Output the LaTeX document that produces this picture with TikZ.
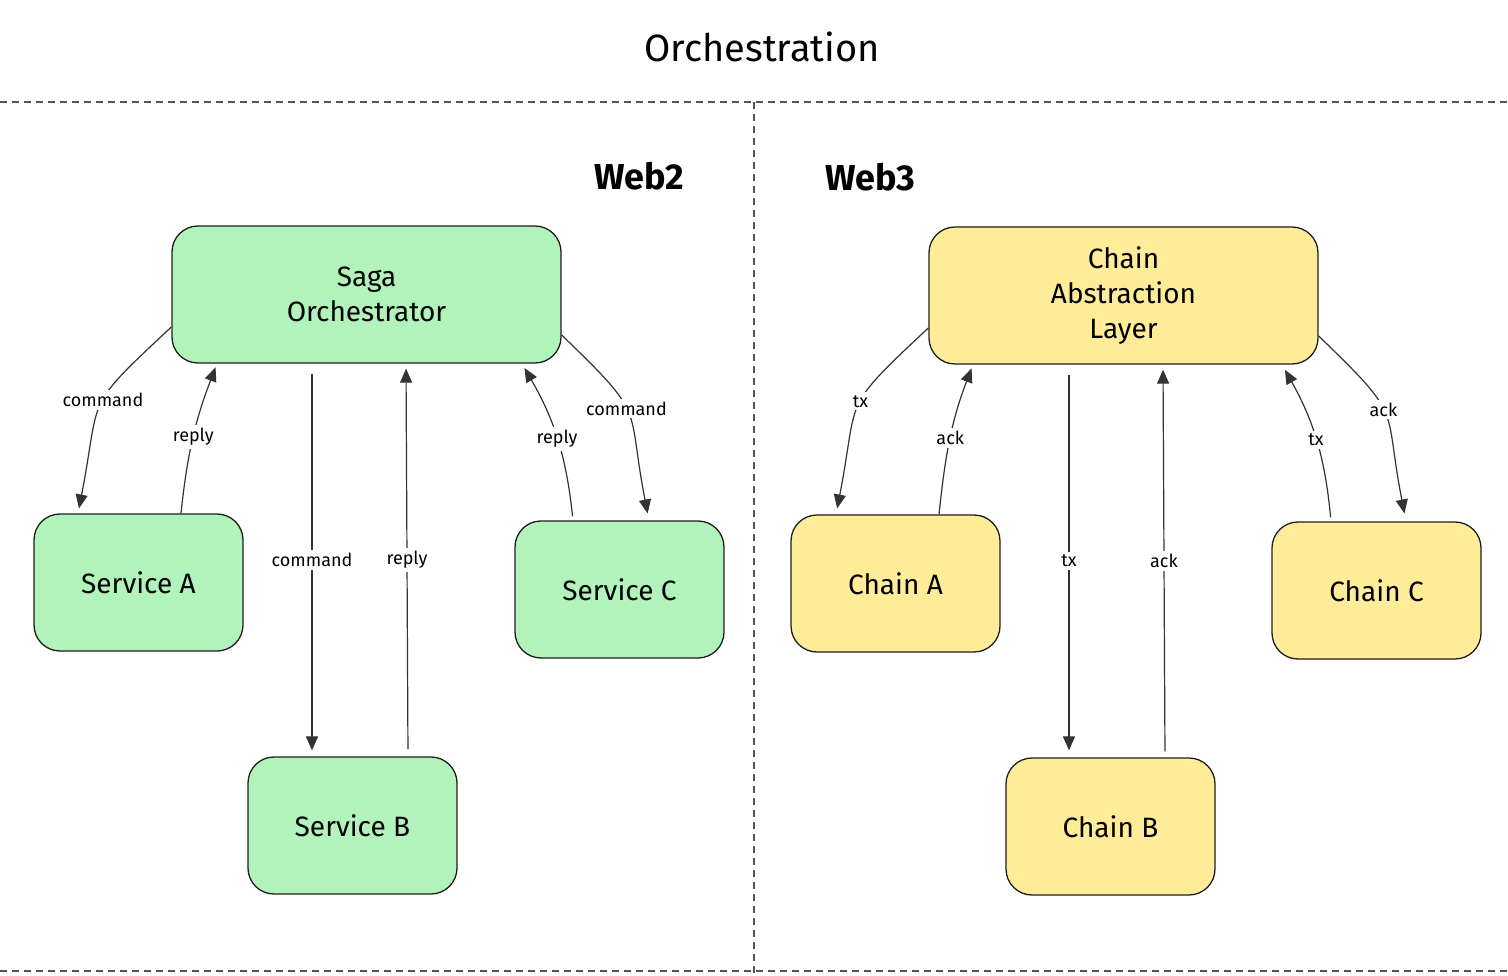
\documentclass[tikz,border=0pt]{standalone}
\usepackage{fontspec}
\setmainfont{Fira Sans}
\usetikzlibrary{arrows.meta}
\definecolor{boxgreen}{HTML}{B2F2BB}
\definecolor{boxyellow}{HTML}{FFEC99}
\definecolor{strokec}{HTML}{1E1E1E}
\definecolor{arrowc}{HTML}{333333}
\definecolor{dashc}{HTML}{555555}
\begin{document}
\begin{tikzpicture}[x=1pt,y=1pt,
  box/.style={draw=strokec, line width=1.3pt, rounded corners=26pt, inner sep=0pt,
    align=center, font=\fontsize{28}{35}\selectfont},
  bigbox/.style={box, minimum width=389pt, minimum height=137pt},
  smallbox/.style={box, minimum width=209pt, minimum height=137pt},
  green/.style={fill=boxgreen},
  yellow/.style={fill=boxyellow},
  conn/.style={draw=arrowc, line width=1.2pt, -{Triangle[length=14pt,width=12pt]}},
  lbl/.style={fill=white, inner sep=3pt, text=black, font=\fontsize{18}{20}\selectfont},
  divider/.style={draw=dashc, line width=1.3pt, dash pattern=on 7pt off 5pt},
  heading/.style={font=\fontsize{38}{42}\selectfont},
  section/.style={font=\fontsize{36}{40}\selectfont\bfseries}
]
\useasboundingbox (0,0) rectangle (1508,-976);
\fill[white] (0,0) rectangle (1508,-976);

% title and dividers
\node[heading] (title) at (762,-47) {Orchestration};
\coordinate (hl) at (0,-102);
\coordinate (hr) at (1508,-102);
\coordinate (vt) at (754,-102);
\coordinate (vb) at (754,-976);
\coordinate (bl) at (0,-971);
\coordinate (br) at (1508,-971);
\draw[divider] (hl) -- (hr);
\draw[divider] (vt) -- (vb);
\draw[divider] (bl) -- (br);

\node[section] (web2) at (639,-176) {Web2};
\node[section] (web3) at (870,-177) {Web3};

% Web2 boxes
\node[bigbox, green] (saga) at (366.5,-294.5) {Saga\\Orchestrator};
\node[smallbox, green] (sa) at (138.5,-582.5) {Service A};
\node[smallbox, green] (sc) at (619.5,-589.5) {Service C};
\node[smallbox, green] (sb) at (352.5,-825.5) {Service B};

% Web3 boxes
\node[bigbox, yellow] (cal) at (1123.5,-295.5) {Chain\\Abstraction\\Layer};
\node[smallbox, yellow] (ca) at (895.5,-583.5) {Chain A};
\node[smallbox, yellow] (cc) at (1376.5,-590.5) {Chain C};
\node[smallbox, yellow] (cb) at (1110.5,-826.5) {Chain B};

% Web2 connectors
\draw[conn, shorten >=5pt] ([yshift=-32.5pt]saga.west) to[out=223, in=79, looseness=1.5] node[lbl, pos=0.45]{command} ([xshift=-60.5pt]sa.north);
\draw[conn, shorten >=4pt] ([xshift=42.5pt]sa.north) to[out=84, in=249] node[lbl]{reply} ([xshift=-149.5pt]saga.south);
\draw[conn, shorten <=10pt, shorten >=6pt] ([xshift=-54.5pt]saga.south) -- node[lbl]{command} ([xshift=-40.5pt]sb.north);
\draw[conn, shorten <=7pt, shorten >=5pt] ([xshift=55.5pt]sb.north) -- node[lbl]{reply} ([xshift=39.5pt]saga.south);
\draw[conn, shorten <=4pt, shorten >=5pt] ([xshift=-46.5pt]sc.north) to[bend right=12] node[lbl]{reply} ([xshift=155.5pt]saga.south);
\draw[conn, shorten >=7pt] ([yshift=-40.5pt]saga.east) to[out=316, in=101, looseness=1.5] node[lbl, pos=0.45]{command} ([xshift=29.5pt]sc.north);

% Web3 connectors
\draw[conn, shorten >=6pt] ([yshift=-32.5pt]cal.west) to[out=223, in=79, looseness=1.5] node[lbl, pos=0.45]{tx} ([xshift=-59.5pt]ca.north);
\draw[conn, shorten >=4pt] ([xshift=43.5pt]ca.north) to[out=84, in=249] node[lbl]{ack} ([xshift=-150.5pt]cal.south);
\draw[conn, shorten <=10pt, shorten >=7pt] ([xshift=-54.5pt]cal.south) -- node[lbl]{tx} ([xshift=-41.5pt]cb.north);
\draw[conn, shorten <=6pt, shorten >=5pt] ([xshift=54.5pt]cb.north) -- node[lbl]{ack} ([xshift=39.5pt]cal.south);
\draw[conn, shorten <=4pt, shorten >=6pt] ([xshift=-45.5pt]cc.north) to[bend right=12] node[lbl]{tx} ([xshift=158.5pt]cal.south);
\draw[conn, shorten >=8pt] ([yshift=-40.5pt]cal.east) to[out=316, in=101, looseness=1.5] node[lbl, pos=0.45]{ack} ([xshift=29.5pt]cc.north);
\end{tikzpicture}
\end{document}
